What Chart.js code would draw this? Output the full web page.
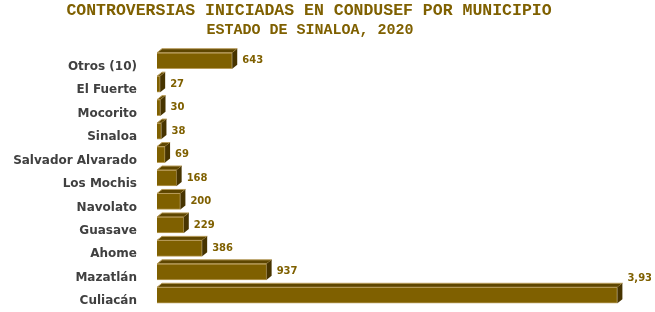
<!DOCTYPE html>
<html>
<head>
<meta charset="utf-8">
<script src="https://cdn.jsdelivr.net/npm/chart.js@4"></script>
<style>
  html, body { margin: 0; padding: 0; background: #ffffff; }
  #wrap { width: 651px; height: 312px; }
</style>
</head>
<body>
<div id="wrap"><canvas id="municipiosChart" width="651" height="312"></canvas></div>
<script>
// Datos
const tituloLineas = ['CONTROVERSIAS INICIADAS EN CONDUSEF POR MUNICIPIO', 'ESTADO DE SINALOA, 2020'];
const municipios = ['Otros (10)', 'El Fuerte', 'Mocorito', 'Sinaloa', 'Salvador Alvarado', 'Los Mochis', 'Navolato', 'Guasave', 'Ahome', 'Mazatlán', 'Culiacán'];
const controversias = [643, 27, 30, 38, 69, 168, 200, 229, 386, 937, 3935];

const colorFrente = '#7f6000';
const colorBorde = '#b89c5a';
const colorTapa = '#5e4600';
const colorLado = '#473400';
const colorTexto = '#7f6000';

// Caras 3D, etiquetas y título
const efecto3D = {
    id: 'efecto3D',
    afterDatasetsDraw(chart) {
        const ctx = chart.ctx;
        const meta = chart.getDatasetMeta(0);
        const dx = 5, dy = 4;
        ctx.save();
        meta.data.forEach((bar, i) => {
            const top = bar.y - bar.height / 2;
            const bottom = bar.y + bar.height / 2;
            const x0 = bar.base, x1 = bar.x;
            // tapa superior
            ctx.beginPath();
            ctx.moveTo(x0, top);
            ctx.lineTo(x0 + dx, top - dy);
            ctx.lineTo(x1 + dx, top - dy);
            ctx.lineTo(x1, top);
            ctx.closePath();
            ctx.fillStyle = colorTapa;
            ctx.fill();
            ctx.strokeStyle = colorBorde;
            ctx.lineWidth = 1;
            ctx.stroke();
            // lado derecho
            ctx.beginPath();
            ctx.moveTo(x1, top);
            ctx.lineTo(x1 + dx, top - dy);
            ctx.lineTo(x1 + dx, bottom - dy);
            ctx.lineTo(x1, bottom);
            ctx.closePath();
            ctx.fillStyle = colorLado;
            ctx.fill();
        });
        // valores
        ctx.font = 'bold 10px "DejaVu Sans"';
        ctx.fillStyle = colorTexto;
        ctx.textAlign = 'left';
        ctx.textBaseline = 'middle';
        meta.data.forEach((bar, i) => {
            const txt = controversias[i].toLocaleString('en-US');
            let x = bar.x + 10;
            let y = bar.y;
            // si no cabe, se sube sobre la barra (queda cortada como el original)
            if (x + ctx.measureText(txt).width > chart.width - 4) {
                x = bar.x + 10;
                y = bar.y - 17;
            }
            ctx.fillText(txt, x, y);
        });
        ctx.restore();
    },
    afterDraw(chart) {
        const ctx = chart.ctx;
        ctx.save();
        ctx.fillStyle = colorTexto;
        ctx.textAlign = 'center';
        ctx.textBaseline = 'middle';
        ctx.font = 'bold 16.5px "Liberation Mono"';
        ctx.fillText(tituloLineas[0], 309, 11);
        ctx.font = 'bold 15px "Liberation Mono"';
        ctx.fillText(tituloLineas[1], 310, 30);
        ctx.restore();
    }
};

const ctxChart = document.getElementById('municipiosChart').getContext('2d');
new Chart(ctxChart, {
    type: 'bar',
    data: {
        labels: municipios,
        datasets: [{
            data: controversias,
            backgroundColor: colorFrente,
            borderColor: colorBorde,
            borderWidth: 1,
            barThickness: 16
        }]
    },
    options: {
        indexAxis: 'y',
        responsive: false,
        animation: false,
        layout: { autoPadding: false, padding: { top: 49, bottom: 5, left: 0, right: 26 } },
        plugins: {
            legend: { display: false },
            tooltip: { enabled: false },
            title: { display: false }
        },
        scales: {
            x: {
                display: false,
                min: 0,
                max: 4000
            },
            y: {
                grid: { display: false, drawTicks: false },
                border: { display: false },
                afterFit(scale) {
                    scale.width = 157;
                    scale.paddingTop = 0;
                    scale.paddingBottom = 0;
                },
                ticks: {
                    padding: 20,
                    labelOffset: 6,
                    color: '#404040',
                    font: { family: 'DejaVu Sans', size: 12, weight: 'bold' }
                }
            }
        }
    },
    plugins: [efecto3D]
});
</script>
</body>
</html>
